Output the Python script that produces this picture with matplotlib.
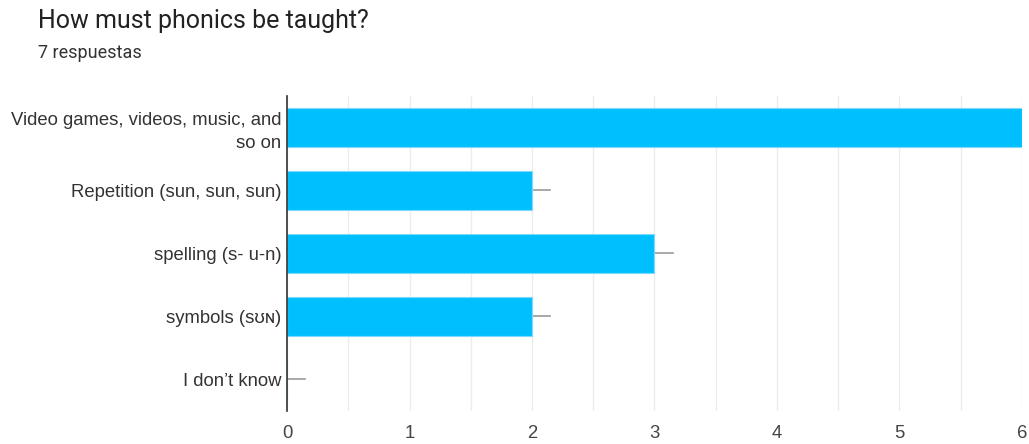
import matplotlib.pyplot as plt
import numpy as np

plt.rcParams['font.family'] = ['Liberation Sans', 'DejaVu Sans']

categories = ["Video games, videos, music, and\nso on",
              "Repetition (sun, sun, sun)",
              "spelling (s- u-n)",
              "symbols (s\u028a\u0274)",
              "I don\u2019t know"]
counts = [6, 2, 3, 2, 0]
total = 7

fig = plt.figure(figsize=(10.29, 4.44), dpi=100)
ax = fig.add_axes([0.279, 0.075, 0.714, 0.709])

ypos = np.arange(len(categories))
ax.barh(ypos, counts, height=0.62, color="#00bfff", edgecolor="#7fd9ff", linewidth=0.8, zorder=3)
# little grey stubs past the end of each bar
for y, c in zip(ypos, counts):
    ax.plot([c, c + 0.15], [y, y], color="#999999", lw=1.2, zorder=2)

ax.set_xlim(0, 6)
ax.set_ylim(len(categories) - 0.5, -0.5)
ax.set_xticks(np.arange(0, 7, 1))
ax.set_xticks(np.arange(0, 6.5, 0.5), minor=True)
ax.set_yticks(ypos)
ax.set_yticklabels(categories, fontsize=13.3, color="#333333", ha="right", linespacing=1.45)
ax.tick_params(axis="x", labelsize=13.3, colors="#444444", length=0, pad=10, which="both")
ax.tick_params(axis="y", length=0, pad=4)
ax.grid(axis="x", which="both", color="#ececec", lw=1, zorder=0)
for s in ["top", "right", "bottom"]:
    ax.spines[s].set_visible(False)
ax.spines["left"].set_color("#333333")
ax.spines["left"].set_linewidth(1.2)
ax.spines["left"].set_zorder(4)

fig.text(0.037, 0.952, "How must phonics be taught?", fontsize=18, family=["Roboto", "DejaVu Sans"],
         color="#222222", va="center")
fig.text(0.037, 0.880, f"{total} respuestas", fontsize=13, family=["Roboto", "DejaVu Sans"],
         color="#333333", va="center")

fig.savefig("out.png", dpi=100)
